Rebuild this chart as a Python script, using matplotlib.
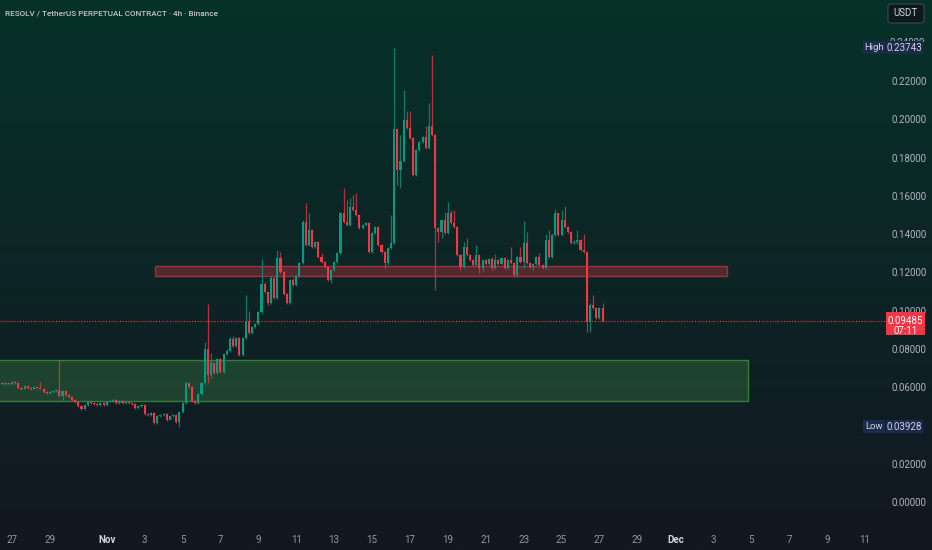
import numpy as np
import matplotlib
matplotlib.use("Agg")
import matplotlib.pyplot as plt
import matplotlib.transforms as mtransforms
from matplotlib.patches import Rectangle, FancyBboxPatch


# Chart data (RESOLV/USDT perp, 4h candles)
first_bar_day = -4 / 6      # days after Oct 27 00:00 of the first visible bar
bar_hours = 4
first_open = 0.0617

closes = [
    0.0622, 0.0617, 0.0622, 0.0617, 0.0627, 0.0622, 0.0596, 0.0591, 0.0606, 0.0596,
    0.0591, 0.0601, 0.0596, 0.0591, 0.0575, 0.0570, 0.0575, 0.0580, 0.0585, 0.0554,
    0.0580, 0.0559, 0.0549, 0.0533, 0.0523, 0.0502, 0.0486, 0.0507, 0.0523, 0.0517,
    0.0512, 0.0507, 0.0517, 0.0507, 0.0523, 0.0528, 0.0533, 0.0517, 0.0528, 0.0517,
    0.0523, 0.0517, 0.0512, 0.0491, 0.0502, 0.0507, 0.0460, 0.0455, 0.0465, 0.0413,
    0.0449, 0.0455, 0.0460, 0.0429, 0.0449, 0.0455, 0.0418, 0.0470, 0.0517, 0.0622,
    0.0601, 0.0528, 0.0517, 0.0564, 0.0622, 0.0800, 0.0664, 0.0726, 0.0674, 0.0747,
    0.0679, 0.0773, 0.0789, 0.0852, 0.0815, 0.0857, 0.0768, 0.0857, 0.0941, 0.0883,
    0.0915, 0.0930, 0.0993, 0.1139, 0.1097, 0.1040, 0.1171, 0.1066, 0.1275, 0.1202,
    0.1087, 0.1040, 0.1160, 0.1134, 0.1181, 0.1249, 0.1463, 0.1343, 0.1421, 0.1333,
    0.1359, 0.1280, 0.1254, 0.1228, 0.1160, 0.1212, 0.1254, 0.1301, 0.1510, 0.1463,
    0.1448, 0.1542, 0.1526, 0.1500, 0.1432, 0.1448, 0.1458, 0.1307, 0.1406, 0.1437,
    0.1343, 0.1307, 0.1249, 0.1327, 0.1354, 0.1949, 0.1735, 0.1782, 0.1996, 0.1955,
    0.1902, 0.1709, 0.1840, 0.1881, 0.1907, 0.1850, 0.1965, 0.1918, 0.1432, 0.1411,
    0.1474, 0.1406, 0.1510, 0.1458, 0.1437, 0.1291, 0.1228, 0.1333, 0.1291, 0.1265,
    0.1239, 0.1291, 0.1223, 0.1265, 0.1244, 0.1270, 0.1223, 0.1265, 0.1244, 0.1275,
    0.1223, 0.1265, 0.1249, 0.1186, 0.1280, 0.1254, 0.1354, 0.1249, 0.1228, 0.1244,
    0.1280, 0.1239, 0.1223, 0.1369, 0.1280, 0.1395, 0.1510, 0.1395, 0.1474, 0.1437,
    0.1411, 0.1354, 0.1359, 0.1369, 0.1317, 0.1307, 0.0941, 0.1030, 0.1014, 0.0962,
    0.1014, 0.09485,
]

highs = [
    0.0627, 0.0625, 0.0626, 0.0624, 0.0631, 0.0630, 0.0627, 0.0600, 0.0610, 0.0609,
    0.0599, 0.0604, 0.0605, 0.0628, 0.0594, 0.0579, 0.0578, 0.0583, 0.0590, 0.0742,
    0.0584, 0.0583, 0.0562, 0.0552, 0.0536, 0.0526, 0.0505, 0.0510, 0.0527, 0.0527,
    0.0520, 0.0515, 0.0520, 0.0521, 0.0526, 0.0532, 0.0537, 0.0536, 0.0531, 0.0531,
    0.0527, 0.0526, 0.0520, 0.0515, 0.0505, 0.0511, 0.0510, 0.0464, 0.0468, 0.0468,
    0.0453, 0.0459, 0.0464, 0.0463, 0.0452, 0.0458, 0.0458, 0.0474, 0.0521, 0.0634,
    0.0627, 0.0604, 0.0532, 0.0568, 0.0627, 0.0834, 0.1035, 0.0780, 0.0731, 0.0752,
    0.0752, 0.0778, 0.0800, 0.0860, 0.0870, 0.0862, 0.0862, 0.0862, 0.1082, 0.0998,
    0.0920, 0.0936, 0.1000, 0.1270, 0.1150, 0.1102, 0.1180, 0.1176, 0.1317, 0.1307,
    0.1207, 0.1092, 0.1165, 0.1170, 0.1186, 0.1256, 0.1474, 0.1563, 0.1510, 0.1426,
    0.1365, 0.1365, 0.1300, 0.1260, 0.1233, 0.1218, 0.1260, 0.1307, 0.1516, 0.1641,
    0.1578, 0.1589, 0.1604, 0.1615, 0.1505, 0.1453, 0.1463, 0.1463, 0.1411, 0.1442,
    0.1442, 0.1348, 0.1312, 0.1333, 0.1500, 0.23743, 0.1955, 0.1918, 0.2153, 0.2043,
    0.2043, 0.1907, 0.1846, 0.1887, 0.1913, 0.1965, 0.2085, 0.2336, 0.1923, 0.1437,
    0.1480, 0.1516, 0.1568, 0.1526, 0.1526, 0.1442, 0.1296, 0.1359, 0.1380, 0.1296,
    0.1270, 0.1343, 0.1296, 0.1270, 0.1270, 0.1275, 0.1280, 0.1296, 0.1270, 0.1280,
    0.1280, 0.1270, 0.1333, 0.1254, 0.1286, 0.1333, 0.1469, 0.1411, 0.1254, 0.1249,
    0.1286, 0.1301, 0.1244, 0.1401, 0.1421, 0.1401, 0.1531, 0.1516, 0.1526, 0.1547,
    0.1442, 0.1416, 0.1369, 0.1421, 0.1374, 0.1401, 0.1312, 0.1040, 0.1082, 0.1020,
    0.1020, 0.1040,
]

lows = [
    0.0614, 0.0612, 0.0614, 0.0612, 0.0614, 0.0618, 0.0592, 0.0586, 0.0588, 0.0592,
    0.0586, 0.0588, 0.0593, 0.0588, 0.0571, 0.0566, 0.0567, 0.0572, 0.0577, 0.0548,
    0.0533, 0.0555, 0.0545, 0.0528, 0.0518, 0.0497, 0.0481, 0.0483, 0.0504, 0.0513,
    0.0508, 0.0503, 0.0504, 0.0504, 0.0504, 0.0520, 0.0525, 0.0514, 0.0514, 0.0514,
    0.0514, 0.0513, 0.0508, 0.0487, 0.0488, 0.0498, 0.0455, 0.0450, 0.0452, 0.0406,
    0.0410, 0.0446, 0.0451, 0.0425, 0.0426, 0.0446, 0.0414, 0.03928, 0.0465, 0.0512,
    0.0596, 0.0523, 0.0510, 0.0513, 0.0560, 0.0618, 0.0620, 0.0650, 0.0668, 0.0668,
    0.0674, 0.0674, 0.0768, 0.0784, 0.0810, 0.0810, 0.0763, 0.0763, 0.0850, 0.0878,
    0.0878, 0.0908, 0.0925, 0.0985, 0.1090, 0.1030, 0.1035, 0.1060, 0.1060, 0.1195,
    0.1080, 0.1035, 0.1035, 0.1128, 0.1128, 0.1176, 0.1244, 0.1338, 0.1338, 0.1327,
    0.1327, 0.1275, 0.1249, 0.1223, 0.1155, 0.1144, 0.1207, 0.1249, 0.1296, 0.1458,
    0.1442, 0.1442, 0.1520, 0.1495, 0.1426, 0.1426, 0.1442, 0.1301, 0.1301, 0.1400,
    0.1338, 0.1301, 0.1223, 0.1239, 0.1322, 0.1348, 0.1657, 0.1641, 0.1776, 0.1950,
    0.1897, 0.1704, 0.1704, 0.1835, 0.1876, 0.1845, 0.1845, 0.1913, 0.1108, 0.1360,
    0.1380, 0.1400, 0.1400, 0.1453, 0.1432, 0.1285, 0.1212, 0.1223, 0.1285, 0.1260,
    0.1233, 0.1233, 0.1197, 0.1202, 0.1239, 0.1239, 0.1212, 0.1218, 0.1239, 0.1239,
    0.1218, 0.1218, 0.1244, 0.1176, 0.1176, 0.1249, 0.1223, 0.1244, 0.1223, 0.1212,
    0.1239, 0.1233, 0.1218, 0.1218, 0.1275, 0.1275, 0.1390, 0.1390, 0.1390, 0.1432,
    0.1406, 0.1348, 0.1348, 0.1348, 0.1312, 0.1301, 0.0888, 0.0888, 0.1009, 0.0956,
    0.0956, 0.0940,
]

# Support / resistance zones: (start day, end day, low price, high price)
resistance_zone = (7.55, 37.73, 0.1181, 0.1233)
support_zone = (-2.0, 38.84, 0.0528, 0.0742)

high_value = 0.23743
low_value = 0.03928
countdown = "07:11"

# 0.04 sits under the "Low" tag, 0.24 is mostly hidden by the "High" tag
price_ticks = [0.0, 0.02, 0.06, 0.08, 0.10, 0.12, 0.14, 0.16, 0.18, 0.20, 0.22]
hidden_tick = 0.24
date_tick_days = [0, 2, 5, 7, 9, 11, 13, 15, 17, 19, 21, 23, 25, 27, 29, 31, 33, 35, 37, 39, 41, 43, 45]
date_tick_labels = ["27", "29", "Nov", "3", "5", "7", "9", "11", "13", "15", "17", "19", "21",
                    "23", "25", "27", "29", "Dec", "3", "5", "7", "9", "11"]

title = "RESOLV / TetherUS PERPETUAL CONTRACT \u00b7 4h \u00b7 Binance"

# Colours
up_color = "#089981"
down_color = "#f23645"
text_color = "#b2b5be"
tag_color = "#1c2b4c"


def main():
    plt.rcParams["font.family"] = ["Liberation Sans Narrow", "Roboto", "DejaVu Sans"]

    fig = plt.figure(figsize=(9.32, 5.5), dpi=100)

    # Background gradient
    bg = fig.add_axes([0, 0, 1, 1], zorder=-5)
    top = np.array([6, 50, 40]) / 255
    bottom = np.array([19, 23, 34]) / 255
    t = np.linspace(0, 1, 256)[:, None]
    grad = top[None, :] * (1 - t) + bottom[None, :] * t
    bg.imshow(grad[:, None, :], aspect="auto", extent=[0, 1, 0, 1])
    bg.set_axis_off()

    # Main pane
    ax = fig.add_axes([0, 23 / 550, 887 / 932, 527 / 550])
    ax.set_facecolor("none")
    for s in ax.spines.values():
        s.set_visible(False)
    ax.set_xlim(-12 / 18.95, 875 / 18.95)
    ax.set_ylim(-25 / 1913.5, 502 / 1913.5)

    closes_a = np.array(closes)
    opens_a = np.concatenate([[first_open], closes_a[:-1]])
    highs_a = np.array(highs)
    lows_a = np.array(lows)
    days = first_bar_day + np.arange(len(closes_a)) * bar_hours / 24
    colors = np.where(closes_a >= opens_a, up_color, down_color)

    # Zones
    x0, x1, y0, y1 = resistance_zone
    ax.add_patch(Rectangle((x0, y0), x1 - x0, y1 - y0, facecolor=(0.95, 0.21, 0.27, 0.3),
                           edgecolor=(0.95, 0.21, 0.27, 0.6), lw=1, zorder=1))
    x0, x1, y0, y1 = support_zone
    ax.add_patch(Rectangle((x0, y0), x1 - x0, y1 - y0, facecolor=(0.30, 0.69, 0.31, 0.25),
                           edgecolor=(0.30, 0.69, 0.31, 0.6), lw=1, zorder=1))

    # Candles
    ax.vlines(days, lows_a, highs_a, colors=colors, lw=0.9, alpha=0.75, zorder=2)
    ax.bar(days, closes_a - opens_a, bottom=opens_a, width=0.11, color=colors,
           lw=0, zorder=3)

    # Last price line
    last = closes_a[-1]
    ax.axhline(last, color=down_color, lw=0.8, ls=(0, (1, 1.5)), zorder=2)

    # Axes ticks
    ax.yaxis.tick_right()
    ax.set_yticks(price_ticks)
    ax.set_yticklabels(["{:.5f}".format(v) for v in price_ticks])
    ax.tick_params(axis="y", length=0, pad=3, labelsize=7, labelcolor=text_color)
    ax.set_xticks(date_tick_days)
    ax.set_xticklabels(date_tick_labels)
    ax.tick_params(axis="x", length=0, pad=6, labelsize=7, labelcolor="#9598a1")
    for lab in ax.get_xticklabels():
        if lab.get_text() in ("Nov", "Dec"):
            lab.set_color("#d1d4dc")
            lab.set_fontweight("bold")

    # Price tags on the scale
    trans = mtransforms.blended_transform_factory(ax.transAxes, ax.transData)
    px = 1 / 1913.5
    axw = 1 / 887

    # top sliver of the 0.24 label peeking out above the High tag
    t24 = ax.text(890 * axw, hidden_tick, "{:.5f}".format(hidden_tick), transform=trans,
                  ha="left", va="center", fontsize=7, color=text_color, zorder=4)
    clip = mtransforms.TransformedBbox(
        mtransforms.Bbox([[880 / 932, 1 - 42 / 550], [1, 1 - 30 / 550]]), fig.transFigure)
    t24.set_clip_box(clip)
    t24.set_clip_on(True)

    def tag(label, value, y):
        ax.add_patch(Rectangle((863 * axw, y - 6.5 * px), 22 * axw, 13 * px, transform=trans,
                               facecolor=tag_color, lw=0, clip_on=False, zorder=6))
        ax.add_patch(Rectangle((886 * axw, y - 6.5 * px), 37 * axw, 13 * px, transform=trans,
                               facecolor=tag_color, lw=0, clip_on=False, zorder=6))
        ax.text(874 * axw, y, label, transform=trans, ha="center", va="center",
                fontsize=6.8, color="#d1d4dc", clip_on=False, zorder=7)
        ax.text(904.5 * axw, y, "{:.5f}".format(value), transform=trans, ha="center",
                va="center", fontsize=7, color="#d1d4dc", clip_on=False, zorder=7)

    tag("High", high_value, high_value)
    tag("Low", low_value, low_value)

    ax.add_patch(Rectangle((886 * axw, last - 14 * px), 39 * axw, 23 * px, transform=trans,
                           facecolor=down_color, lw=0, clip_on=False, zorder=6))
    ax.text(905.5 * axw, last, "{:.5f}".format(last), transform=trans, ha="center",
            va="center", fontsize=7, color="white", clip_on=False, zorder=7)
    ax.text(905.5 * axw, last - 10 * px, countdown, transform=trans, ha="center",
            va="center", fontsize=7, color="white", clip_on=False, zorder=7)

    # Currency button and title
    fig.patches.append(FancyBboxPatch((888 / 932, 1 - 23 / 550), 36 / 932, 19 / 550,
                                      boxstyle="round,pad=0,rounding_size=0.004",
                                      transform=fig.transFigure, facecolor="#0c1a1b",
                                      edgecolor="#434651", lw=0.8, zorder=8))
    fig.text(906 / 932, 1 - 13.5 / 550, "USDT", ha="center", va="center", fontsize=7,
             color="#d1d4dc", zorder=9)
    fig.text(5 / 932, 1 - 13 / 550, title, ha="left", va="center", fontsize=5.9,
             color="#c3c6ce", fontweight="medium")

    fig.savefig("out.png", dpi=100)


if __name__ == "__main__":
    main()
